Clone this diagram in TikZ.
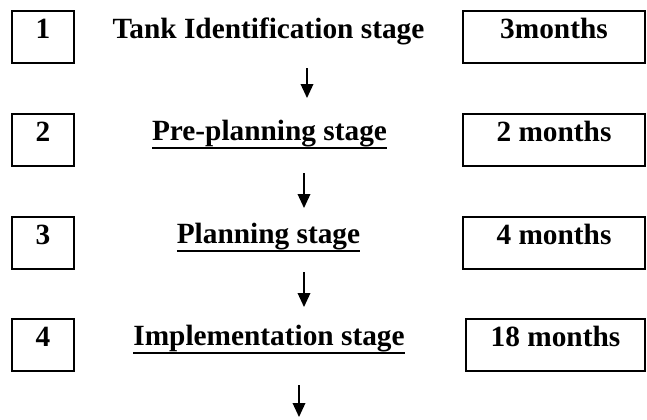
\documentclass[tikz,border=0pt]{standalone}
\usepackage{fontspec}
\setmainfont{Liberation Serif}
\usetikzlibrary{arrows.meta}

% underlined stage title, thick rule under the descenders
\newcommand{\stageul}[1]{\vtop{\hbox{#1}\kern0.3pt\hrule height 1.4pt}}

\tikzset{every picture/.style={line width=0.75pt}}
\tikzset{
  rowfont/.style={font=\fontsize{22}{26}\selectfont\bfseries},
  numbox/.style={draw, line width=1.5pt, rowfont, inner sep=0pt,
    minimum width=46.5pt, text height=21pt, text depth=18pt},
  timebox/.style={numbox, minimum width=136.5pt},
  stagetext/.style={rowfont, inner sep=0pt, anchor=base},
  flowarrow/.style={line width=1pt, -{Triangle[width=9.5pt,length=10.5pt]}}
}

\begin{document}
\begin{tikzpicture}[x=0.75pt,y=0.75pt,yscale=-1,xscale=1]
\useasboundingbox (0,0) rectangle (647,419);

%Shape: Rectangle [stage numbers]
\node [numbox] (n1) at (43,36.5) {1};
\node [numbox] (n2) at (43,139.5) {2};
\node [numbox] (n3) at (43,242.5) {3};
\node [numbox] (n4) at (43,344.5) {4};

% Text Node
\node [stagetext] (s1) at (268.5,38) {Tank Identification stage};
\node [stagetext] (s2) at (269.5,140) {\stageul{Pre-planning stage}};
\node [stagetext] (s3) at (268.5,243) {\stageul{Planning stage}};
\node [stagetext] (s4) at (269,345) {\stageul{Implementation stage}};

%Shape: Rectangle [durations]
\node [timebox] (t1) at (554,36.5) {3months};
\node [timebox] (t2) at (554,139.5) {2 months};
\node [timebox] (t3) at (554,242.5) {4 months};
\node [timebox, minimum width=134.25pt] (t4) at (555.5,344.5) {18 months};

%Straight Lines [flow between stages]
\coordinate (a1) at (307,68);   \coordinate (b1) at (307,98);
\coordinate (a2) at (304,173);  \coordinate (b2) at (304,208);
\coordinate (a3) at (304,272);  \coordinate (b3) at (304,307);
\coordinate (a4) at (299,385);  \coordinate (b4) at (299,417);
\draw [flowarrow] (a1) -- (b1);
\draw [flowarrow] (a2) -- (b2);
\draw [flowarrow] (a3) -- (b3);
\draw [flowarrow] (a4) -- (b4);

\end{tikzpicture}
\end{document}
